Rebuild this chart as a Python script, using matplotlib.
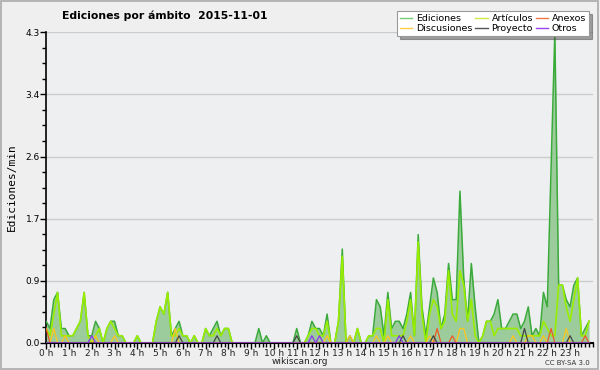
import matplotlib
matplotlib.use("Agg")
import matplotlib.pyplot as plt
from matplotlib.lines import Line2D
from matplotlib.patches import Rectangle
import numpy as np

# 10-minute slots, values in edits/min
ediciones = [
    0.3,0.2,0.6,0.7,0.2,0.2,0.1,0.1,0.2,0.3,0.7,0.1,
    0.1,0.3,0.2,0,0.2,0.3,0.3,0.1,0.1,0,0,0,
    0.1,0,0,0,0,0.3,0.5,0.4,0.7,0.1,0.2,0.3,
    0.1,0.1,0,0.1,0,0,0.2,0.1,0.2,0.3,0.1,0.2,
    0.2,0,0,0,0,0,0,0,0.2,0,0.1,0,
    0,0,0,0,0,0,0.2,0,0,0.1,0.3,0.2,
    0.2,0.1,0.4,0,0,0.3,1.3,0,0.1,0,0.2,0,
    0,0.1,0.1,0.6,0.5,0.1,0.7,0.2,0.3,0.3,0.2,0.4,
    0.7,0.1,1.5,0.5,0.1,0.5,0.9,0.7,0.2,0.4,1.1,0.6,
    0.6,2.1,0.9,0.3,1.1,0.5,0,0.1,0.3,0.3,0.4,0.6,
    0.2,0.2,0.3,0.4,0.4,0.2,0.3,0.5,0.1,0.2,0.1,0.7,
    0.5,2.4,4.3,0.8,0.8,0.6,0.5,0.8,0.9,0.1,0.2,0.3,
]
articulos = [
    0.2,0.1,0.4,0.7,0.1,0.1,0.1,0.1,0.2,0.3,0.7,0.1,
    0,0.1,0.2,0,0.2,0.3,0.2,0.1,0.1,0,0,0,
    0.1,0,0,0,0,0.3,0.5,0.4,0.7,0.1,0.1,0.2,
    0.1,0.1,0,0.1,0,0,0.2,0.1,0.1,0.2,0.1,0.2,
    0.2,0,0,0,0,0,0,0,0,0,0,0,
    0,0,0,0,0,0,0,0,0,0.1,0.2,0.2,
    0.1,0.1,0.3,0,0,0.3,1.2,0,0,0,0.2,0,
    0,0.1,0.1,0.2,0.2,0,0.6,0.1,0.1,0.1,0.1,0.3,
    0.6,0.1,1.4,0.4,0,0.4,0.6,0.5,0.2,0.3,1.0,0.4,
    0.3,1.0,0.8,0.3,0.6,0.1,0,0.1,0.3,0.3,0.1,0.2,
    0.2,0.2,0.2,0.2,0.2,0.1,0.1,0.1,0.1,0.1,0.1,0.3,
    0.2,0.1,0.1,0.8,0.8,0.5,0.3,0.6,0.9,0.1,0.1,0.3,
]
# sparse series: {slot index: value}
anexos_pts = {0: 0.2, 103: 0.2, 107: 0.1, 133: 0.2, 142: 0.1}
discusiones_pts = {2: 0.2, 5: 0.1, 13: 0.1, 18: 0.1, 34: 0.2, 74: 0.1, 80: 0.1,
                   87: 0.1, 90: 0.1, 96: 0.1, 101: 0.1, 109: 0.2, 110: 0.2,
                   123: 0.1, 127: 0.1, 128: 0.1, 131: 0.1, 137: 0.2}
proyecto_pts = {35: 0.1, 45: 0.1, 66: 0.1, 94: 0.1, 102: 0.1, 126: 0.2, 138: 0.1}
otros_pts = {12: 0.1, 70: 0.1, 72: 0.1, 93: 0.1}

n = len(ediciones)
def dense(pts):
    a = np.zeros(n)
    for k, v in pts.items():
        a[k] = v
    return a

anexos = dense(anexos_pts)
discusiones = dense(discusiones_pts)
proyecto = dense(proyecto_pts)
otros = dense(otros_pts)

hours = np.arange(n) / 6.0
hour_labels = [f"{h} h" for h in range(24)]
ytick_vals = [0, 0.86, 1.72, 2.58, 3.44, 4.3]
ytick_labels = ["0.0", "0.9", "1.7", "2.6", "3.4", "4.3"]

bg = "#efefef"
fig = plt.figure(figsize=(6, 3.7), dpi=100, facecolor=bg)
fig.patches.append(Rectangle((0.002, 0.003), 0.995, 0.993, transform=fig.transFigure,
                             fill=False, edgecolor="#aaaaaa", lw=1.2))
ax = fig.add_axes([0.077, 0.073, 0.911, 0.840])
ax.set_facecolor("#eeeff0")

ax.fill_between(hours, ediciones, 0, color="#9ccc9c", lw=0, zorder=2)
ax.plot(hours, ediciones, color="#3aaa3a", lw=1.1, zorder=3)
ax.plot(hours, articulos, color="#99ee00", lw=1.2, zorder=4)
ax.plot(hours, discusiones, color="#ffc61a", lw=0.9, zorder=5)
ax.plot(hours, anexos, color="#ee5a22", lw=0.9, zorder=5)
ax.plot(hours, proyecto, color="#444444", lw=0.9, zorder=5)
ax.plot(hours, otros, color="#8833ee", lw=0.9, zorder=5)

ax.set_xlim(0, 24)
ax.set_ylim(0, 4.3)
ax.set_yticks(ytick_vals)
ax.set_yticklabels(ytick_labels)
ax.set_yticks(np.arange(0, 4.31, 0.215), minor=True)
ax.set_xticks(range(24))
ax.set_xticklabels(hour_labels)
ax.set_xticks(np.arange(0, 24.01, 1/6), minor=True)
ax.tick_params(axis="both", which="major", labelsize=6.5, length=4, width=1, colors="black", pad=0.5)
ax.tick_params(axis="both", which="minor", length=3, width=1)
ax.tick_params(axis="x", which="both", labelcolor="#222222")
ax.yaxis.grid(True, color="#cccccc", lw=1, zorder=0)
ax.set_axisbelow(True)
for s in ["top", "right"]:
    ax.spines[s].set_visible(False)
ax.spines["left"].set_linewidth(1.2)
ax.spines["bottom"].set_linewidth(1.5)

ax.set_ylabel("Ediciones/min", fontsize=8, family="DejaVu Sans Mono", labelpad=6)
fig.text(0.275, 0.957, "Ediciones por ámbito  2015-11-01", fontsize=7.8,
         fontweight="bold", ha="center", va="center")
fig.text(0.5, 0.022, "wikiscan.org", fontsize=6.5, ha="center", va="center", color="#222222")
fig.text(0.983, 0.02, "CC BY-SA 3.0", fontsize=5, ha="right", va="center", color="#333333")

handles = [
    Line2D([], [], color="#77cc77", lw=1), Line2D([], [], color="#ffcc44", lw=1),
    Line2D([], [], color="#ccee44", lw=1), Line2D([], [], color="#555555", lw=1),
    Line2D([], [], color="#ee7744", lw=1), Line2D([], [], color="#9944ee", lw=1),
]
labels = ["Ediciones", "Discusiones", "Artículos", "Proyecto", "Anexos", "Otros"]
leg = fig.legend(handles, labels, ncol=3, loc="upper right", bbox_to_anchor=(0.985, 0.975),
                 fontsize=6.8, frameon=True, fancybox=False, shadow=True,
                 handlelength=1.3, handletextpad=0.4, columnspacing=0.3,
                 labelspacing=0.15, borderpad=0.3, borderaxespad=0.2)
leg.get_frame().set_edgecolor("#999999")
leg.get_frame().set_linewidth(0.8)

fig.savefig("out.png", dpi=100, facecolor=bg)
